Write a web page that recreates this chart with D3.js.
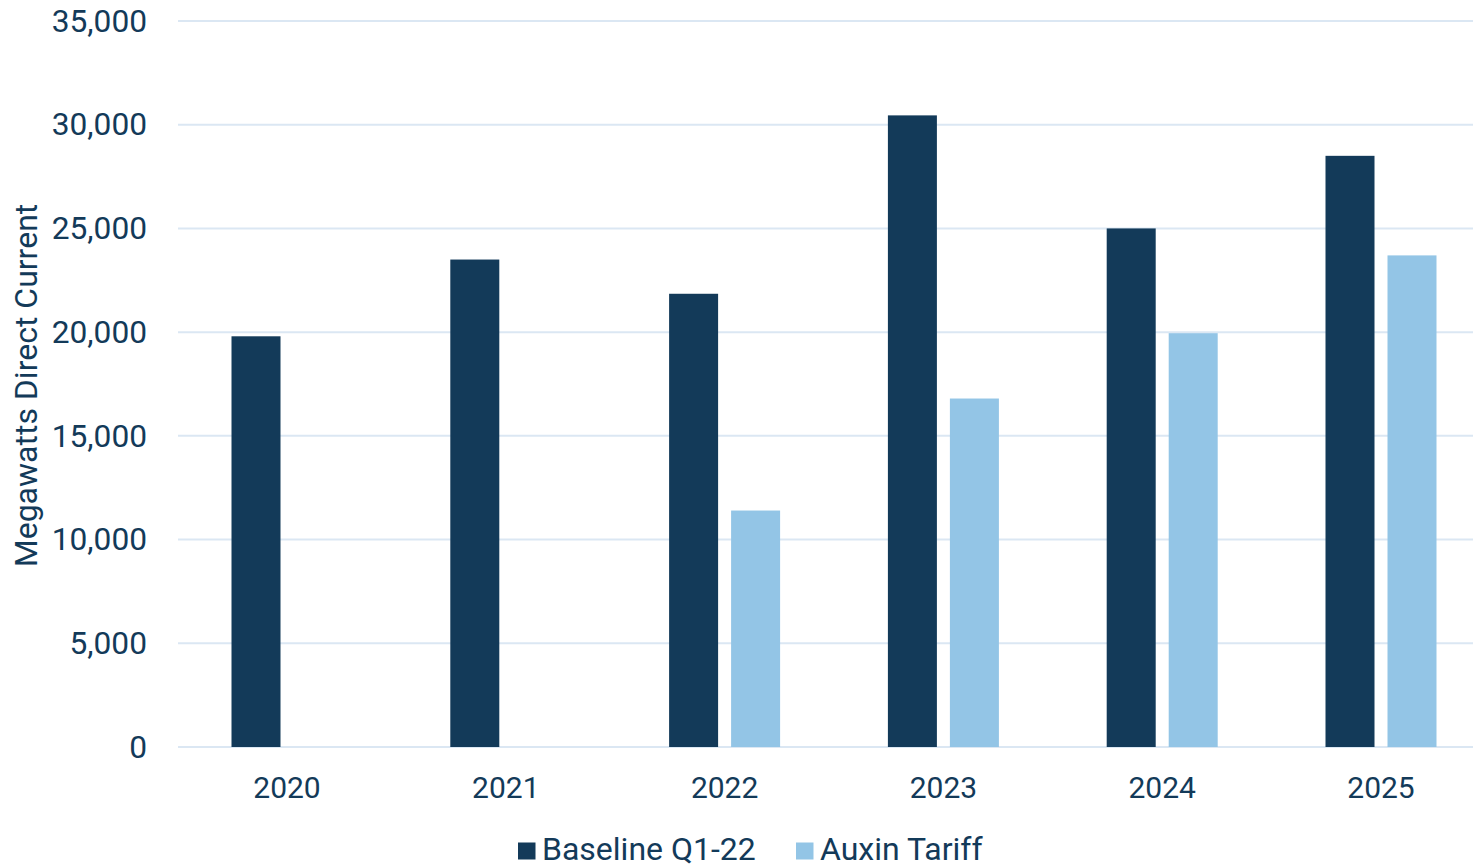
<!DOCTYPE html>
<html><head><meta charset="utf-8">
<script src="https://cdn.jsdelivr.net/npm/d3@7"></script>
<style>
html,body{margin:0;padding:0;background:#fff;overflow:hidden}
svg{display:block}
text{font-family:Roboto, "Noto Sans", sans-serif;fill:#133a59}
</style></head>
<body>
<script>
const categories = ["2020","2021","2022","2023","2024","2025"];
const seriesNames = ["Baseline Q1-22","Auxin Tariff"];
const baseline = [19800, 23500, 21850, 30450, 25000, 28500];
const auxin = [null, null, 11400, 16800, 19950, 23700];
const yTicks = [0,5000,10000,15000,20000,25000,30000,35000];
const colors = ["#133a59","#93c5e6"];

const W = 1473, H = 866;
const svg = d3.select("body").append("svg").attr("width",W).attr("height",H);

const x = d3.scaleBand().domain(categories).range([177.6, 1490.4]).paddingInner(0).paddingOuter(0);
const y = d3.scaleLinear().domain([0,35000]).range([747,21]);

// gridlines
svg.append("g").selectAll("line").data(yTicks).join("line")
  .attr("x1",178).attr("x2",W)
  .attr("y1",d=>y(d)).attr("y2",d=>y(d))
  .attr("stroke","#dbe7f3").attr("stroke-width",2);

// y axis labels
const yAxis = d3.axisLeft(y).tickValues(yTicks).tickFormat(d3.format(",")).tickSize(0).tickPadding(0);
const ya = svg.append("g").attr("transform","translate(147,0)").call(yAxis);
ya.select(".domain").remove();
ya.selectAll("text").attr("font-size",31.7).attr("fill","#133a59").style("font-family","Roboto");

// x axis labels
const xAxis = d3.axisBottom(x).tickSize(0).tickPadding(0);
const xa = svg.append("g").attr("transform","translate(0,777)").call(xAxis);
xa.select(".domain").remove();
xa.selectAll("text").attr("font-size",30).attr("fill","#133a59").attr("dy","0.71em").style("font-family","Roboto");

const barW = 49, gap = 13;
const data = categories.map((c,i)=>({c, vals:[baseline[i], auxin[i]]}));
const g = svg.append("g");
data.forEach(d=>{
  const cx = x(d.c) + x.bandwidth()/2;
  d.vals.forEach((v,j)=>{
    if(v==null) return;
    const left = cx - (barW*2+gap)/2 + j*(barW+gap);
    g.append("rect").attr("x",left).attr("width",barW)
      .attr("y",y(v)).attr("height",y(0)-y(v))
      .attr("fill",colors[j]);
  });
});

// y title
svg.append("text").attr("transform","translate(37,385.5) rotate(-90)")
  .attr("text-anchor","middle").attr("font-size",32).text("Megawatts Direct Current");

// legend
const leg = svg.append("g");
const legX = [518, 796];
seriesNames.forEach((n,i)=>{
  leg.append("rect").attr("x",legX[i]).attr("y",842.5).attr("width",17.5).attr("height",17).attr("fill",colors[i]);
  leg.append("text").attr("x",legX[i]+24).attr("y",860.3).attr("font-size",32).text(n);
});
</script>
</body></html>
